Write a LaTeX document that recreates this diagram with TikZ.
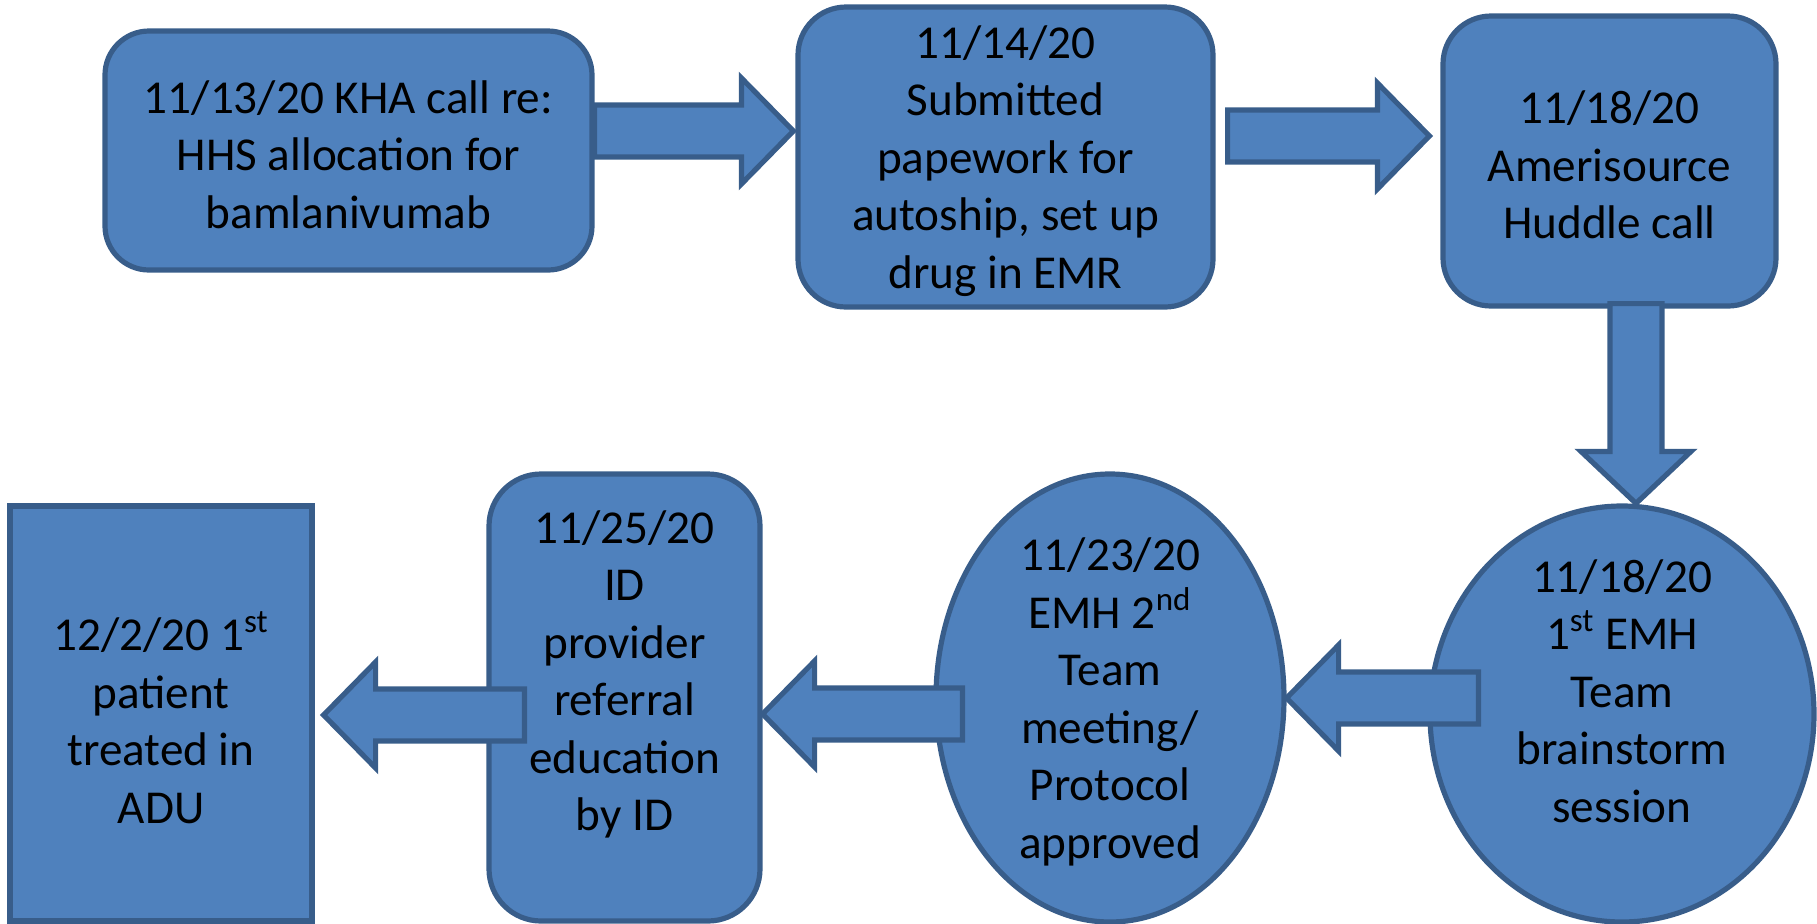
\documentclass[tikz,border=0pt]{standalone}
\usepackage{fontspec}
\setmainfont{Carlito}
\usetikzlibrary{calc,shapes.geometric}

\definecolor{boxfill}{HTML}{4F81BD}
\definecolor{boxline}{HTML}{385D8A}

\tikzset{
  shapebox/.style={draw=boxline, fill=boxfill, line width=2.6pt, inner sep=0pt},
  roundbox/.style={shapebox, rectangle, rounded corners=24pt},
  ovalbox/.style={shapebox, ellipse},
  squarebox/.style={shapebox, rectangle},
  txt/.style={align=center, yshift=-2pt, font=\fontsize{23.6}{28.75}\selectfont},
  blockarrow/.style={draw=boxline, fill=boxfill, line width=2.6pt, line join=miter}
}

\newcommand{\harrow}[3]{%
  \draw[blockarrow] ($(#1 |- #2)+(0,-26)$) -- ($(#2)+(-52*#3,-26)$) -- ($(#2)+(-52*#3,-53)$) -- (#2)
    -- ($(#2)+(-52*#3,53)$) -- ($(#2)+(-52*#3,26)$) -- ($(#1 |- #2)+(0,26)$) -- cycle;}
\newcommand{\varrow}[2]{%
  \draw[blockarrow] ($(#2 |- #1)+(-26,0)$) -- ($(#2)+(-26,-52)$) -- ($(#2)+(-55,-52)$) -- (#2)
    -- ($(#2)+(55,-52)$) -- ($(#2)+(26,-52)$) -- ($(#2 |- #1)+(26,0)$) -- cycle;}

\begin{document}
\begin{tikzpicture}[x=0.5pt, y=-0.5pt]
  \useasboundingbox (0,0) rectangle (1817,923);

  \node[roundbox, rounded corners=22pt, minimum width=243.5pt, minimum height=119.5pt] (kha) at (348.5,150.5) {};
  \node[txt] (khatxt) at (kha) {11/13/20 KHA call re:\\HHS allocation for\\bamlanivumab};
  \node[roundbox, minimum width=207.5pt, minimum height=150pt] (submit) at (1005.5,157) {};
  \node[txt] (submittxt) at (submit) {11/14/20\\Submitted\\papework for\\autoship, set up\\drug in EMR};
  \node[roundbox, minimum width=166.5pt, minimum height=145pt] (huddle) at (1609.5,161) {};
  \node[txt] (huddletxt) at (huddle) {11/18/20\\Amerisource\\Huddle call};

  \node[ovalbox, minimum width=192pt, minimum height=208pt] (brain) at (1622,714) {};
  \node[txt] (braintxt) at ($(brain)+(0,-27)$)
    {11/18/20\\1\textsuperscript{st} EMH\\Team\\brainstorm\\session};
  \node[ovalbox, minimum width=174pt, minimum height=224pt] (proto) at (1110,698) {};
  \node[txt] (prototxt) at (proto)
    {11/23/20\\EMH 2\textsuperscript{nd}\\Team\\meeting/\\Protocol\\approved};
  \node[roundbox, rounded corners=26pt, minimum width=135.5pt, minimum height=223.5pt] (idref) at (624.5,697.5) {};
  \node[txt] (idreftxt) at ($(idref)+(0,-27)$)
    {11/25/20\\ID\\provider\\referral\\education\\by ID};
  \node[squarebox, minimum width=151pt, minimum height=207.5pt] (adu) at (161,713.5) {};
  \node[txt] (adutxt) at (adu) {12/2/20 1\textsuperscript{st}\\patient\\treated in\\ADU};

  \coordinate (t1) at ($(submit.west)+(-2,-26)$);
  \coordinate (s2) at ($(submit.east)+(12,0)$);
  \coordinate (t2) at ($(huddle.west)+(-11,-25)$);
  \coordinate (s3) at ($(huddle.south)+(0,-5)$);
  \coordinate (t3) at ($(brain.north)+(14,0)$);
  \coordinate (s4) at ($(brain.west)+(51,0)$);
  \coordinate (s5) at ($(proto.west)+(29,0)$);
  \coordinate (t5) at ($(idref.east)+(0,16.5)$);
  \coordinate (s6) at ($(idref.west)+(38,0)$);
  \coordinate (t6) at ($(adu.east)+(9,1.5)$);

  \harrow{kha.east}{t1}{1}
  \harrow{s2}{t2}{1}
  \varrow{s3}{t3}
  \harrow{s4}{proto.east}{-1}
  \harrow{s5}{t5}{-1}
  \harrow{s6}{t6}{-1}
\end{tikzpicture}
\end{document}
